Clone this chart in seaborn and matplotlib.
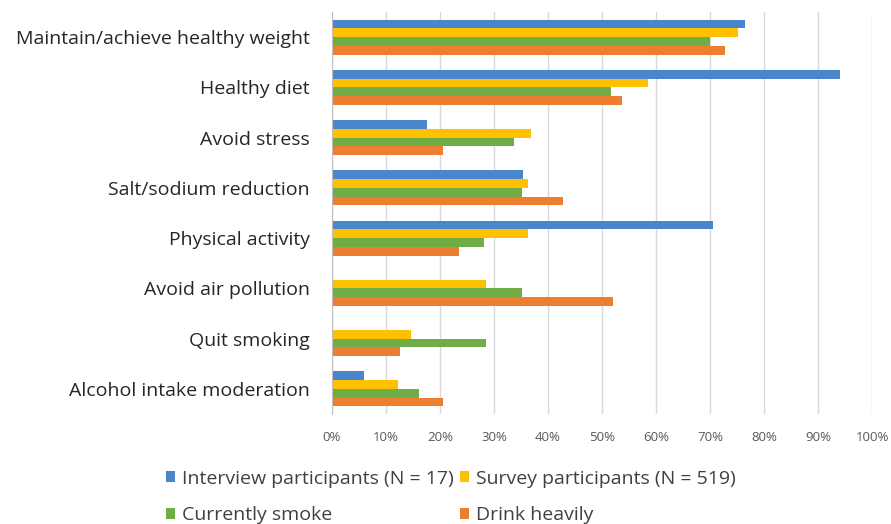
import pandas as pd
import numpy as np
import matplotlib
matplotlib.use("Agg")
import matplotlib.pyplot as plt
import seaborn as sns

categories = ["Maintain/achieve healthy weight", "Healthy diet", "Avoid stress",
              "Salt/sodium reduction", "Physical activity", "Avoid air pollution",
              "Quit smoking", "Alcohol intake moderation"]
interview = [76.5, 94.1, 17.6, 35.3, 70.6, 0.0, 0.0, 5.9]
survey = [75.2, 58.5, 36.9, 36.3, 36.3, 28.5, 14.6, 12.2]
smoke = [70.0, 51.6, 33.7, 35.2, 28.1, 35.2, 28.5, 16.2]
drink = [72.8, 53.7, 20.6, 42.8, 23.6, 52.1, 12.5, 20.6]

series_names = ["Interview participants (N = 17)", "Survey participants (N = 519)",
                "Currently smoke", "Drink heavily"]
colors = ["#4A86CC", "#FFC000", "#70AD47", "#ED7D31"]
xticks = [0, 10, 20, 30, 40, 50, 60, 70, 80, 90, 100]

rows = []
for name, vals in zip(series_names, [interview, survey, smoke, drink]):
    for cat, v in zip(categories, vals):
        rows.append({"category": cat, "group": name, "value": v})
df = pd.DataFrame(rows)

sns.set_style("white")
plt.rcParams['font.family'] = ['Open Sans', 'DejaVu Sans']

fig = plt.figure(figsize=(8.91, 5.24), dpi=100)
ax = fig.add_axes([332 / 891, 1 - 414 / 524, 540 / 891, 402 / 524])

sns.barplot(data=df, y="category", x="value", hue="group", orient="h",
            order=categories, hue_order=series_names, palette=colors,
            width=0.70, ax=ax, saturation=1, linewidth=0)

ax.set_xlim(0, 100)
ax.set_xticks(xticks)
ax.set_xticklabels([f"{t}%" for t in xticks], fontsize=9.5, color="#595959")
ax.tick_params(axis="y", labelsize=14, colors="#262626", length=0, pad=16)
ax.tick_params(axis="x", length=0, pad=12)
ax.xaxis.grid(True, color="#D9D9D9", linewidth=1)
ax.set_axisbelow(True)
for s in ["top", "right", "bottom"]:
    ax.spines[s].set_visible(False)
ax.spines["left"].set_color("#BFBFBF")
ax.set_xlabel("")
ax.set_ylabel("")

handles, labels = ax.get_legend_handles_labels()
ax.legend_.remove()
order = [0, 2, 1, 3]
fig.legend([handles[i] for i in order], [labels[i] for i in order],
           loc="upper left", bbox_to_anchor=(152 / 891, 1 - 456 / 524),
           ncol=2, frameon=False, fontsize=14, handlelength=0.5, handleheight=0.5,
           handletextpad=0.35, columnspacing=0.3, labelspacing=0.95,
           labelcolor="#404040", borderpad=0.2)

fig.savefig("out.png", dpi=100)
